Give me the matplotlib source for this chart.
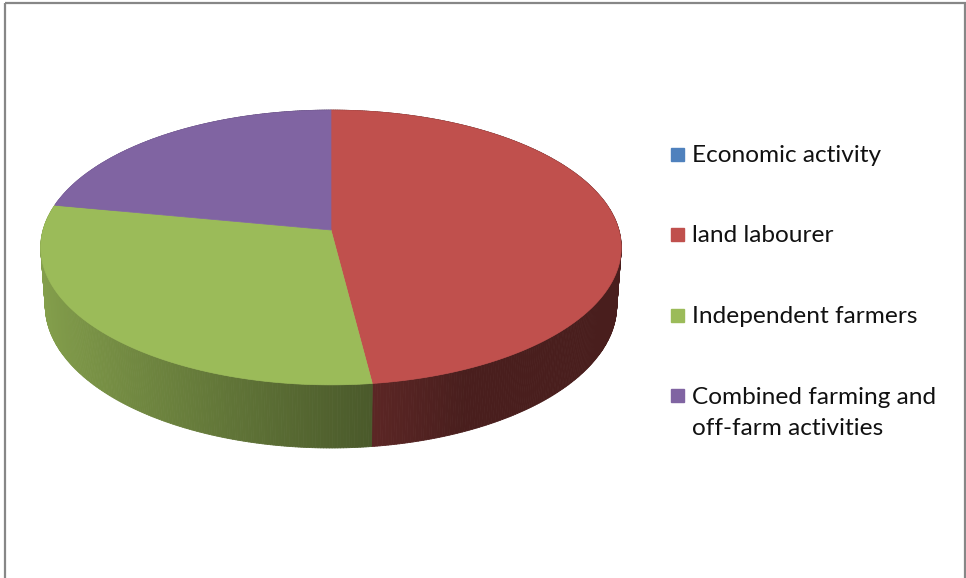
import numpy as np
import matplotlib
matplotlib.use('Agg')
import matplotlib.pyplot as plt
from matplotlib.patches import Rectangle
from matplotlib.collections import PolyCollection
from matplotlib.colors import to_rgb

labels = ['Economic activity', 'land labourer', 'Independent farmers',
          'Combined farming and\noff-farm activities']
values = [0, 48, 30, 22]
colors = ['#4F81BD', '#C0504D', '#9BBB59', '#8064A2']

# rough fit of Excel's 3-D pie view
elev = np.radians(28)
dist = 6.94
focal = 1998.0
depth = 0.23
cx, cy = 331, 230   # where the pie centre lands (pixels)


def project(u, v, z):
    d = dist + v * np.cos(elev) - z * np.sin(elev)
    X = focal * u / d
    Y = focal * (v * np.sin(elev) + z * np.cos(elev)) / d
    return cx + X, cy - Y


def shade(c, t):
    # lighter where the wall faces left, darker on the right
    f = np.clip(0.52 - 0.34 * np.sin(t), 0.38, 1.0)
    return tuple(np.array(to_rgb(c)) * f)


fig = plt.figure(figsize=(9.66, 5.78), dpi=100)
ax = fig.add_axes([0, 0, 1, 1])
ax.set_xlim(0, 966)
ax.set_ylim(578, 0)
ax.axis('off')

fracs = np.array(values, dtype=float) / sum(values)
edges = np.concatenate([[0], np.cumsum(fracs)]) * 2 * np.pi

# outer walls, far pieces first
walls = []
for i in range(len(values)):
    if values[i] == 0:
        continue
    n = max(int((edges[i+1] - edges[i]) / (2*np.pi) * 720), 4)
    ts = np.linspace(edges[i], edges[i+1], n + 1)
    for t0, t1 in zip(ts[:-1], ts[1:]):
        xa, ya = project(np.sin(t0), np.cos(t0), 0)
        xb, yb = project(np.sin(t1), np.cos(t1), 0)
        xc, yc = project(np.sin(t1), np.cos(t1), -depth)
        xd, yd = project(np.sin(t0), np.cos(t0), -depth)
        tm = 0.5 * (t0 + t1)
        walls.append((np.cos(tm), [(xa, ya), (xb, yb), (xc, yc), (xd, yd)],
                      shade(colors[i], tm)))
walls.sort(key=lambda w: -w[0])
wc = [w[2] for w in walls]
ax.add_collection(PolyCollection([w[1] for w in walls], facecolors=wc,
                                 edgecolors=wc, linewidths=0.6))

# top faces
for i in range(len(values)):
    if values[i] == 0:
        continue
    ts = np.linspace(edges[i], edges[i+1], 200)
    px, py = project(np.sin(ts), np.cos(ts), 0)
    ox, oy = project(0, 0, 0)
    ax.fill(np.r_[ox, px], np.r_[oy, py], color=colors[i], lw=0.5,
            ec=colors[i])

# legend (first-line baselines, pixels)
baselines = [162, 242, 323, 403]
line_gap = 32
for lab, col, yb in zip(labels, colors, baselines):
    ax.add_patch(Rectangle((671, yb - 14), 13, 13, color=col))
    ax.text(692, yb + line_gap * lab.count('\n'), lab, fontsize=17.6,
            family='Lato', color='#111111', va='baseline', ha='left',
            linespacing=1.57)

# chart frame
ax.add_patch(Rectangle((4.5, 2.5), 960.5, 620, fill=False, ec='#878787',
                       lw=1.6, clip_on=False))

fig.savefig('out.png', dpi=100)
